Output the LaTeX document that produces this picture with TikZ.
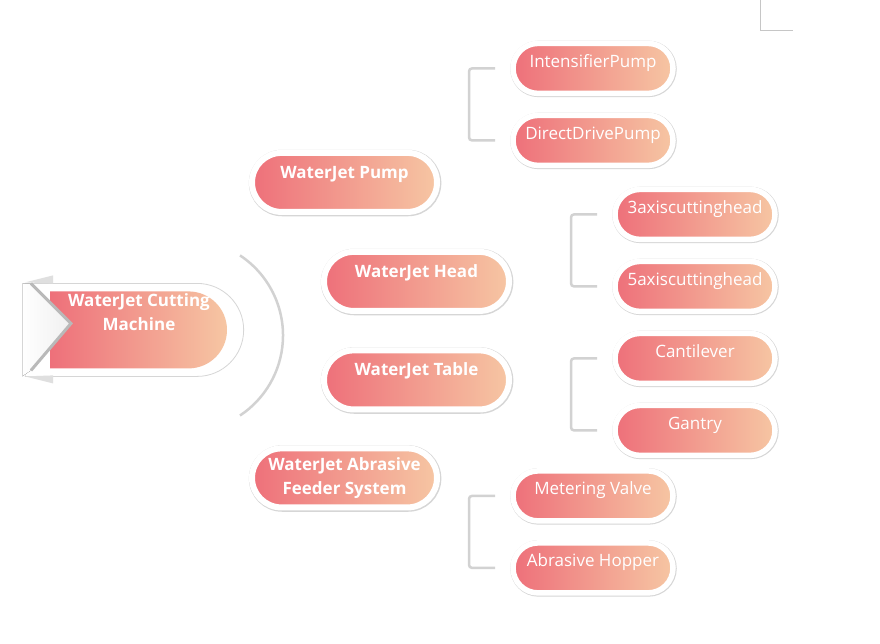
\documentclass[tikz,border=0pt]{standalone}
\usepackage{fontspec}
\setmainfont{Open Sans}
\usepackage{xcolor}
\usepackage{tikz}
\usetikzlibrary{shapes.misc, positioning}
\definecolor{gradL}{RGB}{238,112,122}
\definecolor{gradR}{RGB}{246,198,163}
\definecolor{ringgray}{RGB}{214,214,214}
\definecolor{linegray}{RGB}{210,210,210}

\begin{document}
\begin{tikzpicture}[
    x=1pt, y=-1pt,
    node distance=22pt,
    pill/.style={rounded rectangle, outer sep=0pt, inner sep=0pt, left color=gradL, right color=gradR, text=white},
    topic/.style={pill, minimum width=185pt, minimum height=59pt, preaction={draw=ringgray, line width=7.5pt, transform canvas={xshift=0.6pt, yshift=-0.6pt}}, draw=white, line width=6pt, font=\fontsize{17}{23.5}\selectfont\bfseries},
    lifted/.style={text height=11pt, text depth=19pt},
    subtopic/.style={pill, minimum width=160pt, minimum height=50pt, preaction={draw=ringgray, line width=6.5pt, transform canvas={xshift=0.5pt, yshift=-0.5pt}}, draw=white, line width=5.5pt, font=\fontsize{17}{20}\selectfont, text height=11pt, text depth=13pt},
    bracket/.style={draw=linegray, line width=2.5pt, rounded corners=3pt}
]
\fill[white] (0,0) rectangle (880,643);

% root
\node[rounded rectangle, rounded rectangle west arc=none, minimum width=225pt, minimum height=93pt, fill=white, draw=ringgray, line width=0.8pt, outer sep=0pt] (rootbg) at (134.5,329.5) {};
\node[pill, rounded rectangle west arc=none, minimum width=177pt, minimum height=77pt] (root) at (138.5,329.5) {};
\fill[left color=white, right color=gray!12] (22,283) -- (31,283) -- (71,323) -- (31,370) -- (22,376) -- cycle;
\fill[gray!25] (25,282) -- (53,275) -- (53,283) -- cycle;
\fill[gray!25] (25,376) -- (53,383) -- (53,375) -- cycle;
\draw[gray!55, line width=3pt] (31,283) -- (71,323) -- (31,370);
\draw[ringgray, line width=0.6pt] (22,283) -- (22,376);
\node[font=\fontsize{17}{23.5}\selectfont\bfseries, text=white, align=center] (roottext) at (139,311.5) {WaterJet Cutting\\Machine};

\draw[linegray, line width=2.5pt] (240,255) arc[start angle=56.5, end angle=-56.5, radius=96pt];

% topics
\node[topic, lifted] (pump) at (344.5,182) {WaterJet Pump};
\node[topic, lifted] (head) at (416.5,281) {WaterJet Head};
\node[topic, lifted] (table) at (416.5,379.5) {WaterJet Table};
\node[topic, align=center] (feeder) at (344.5,477.5) {WaterJet Abrasive\\Feeder System};

% subtopics
\node[subtopic] (intens) at (593,68) {IntensifierPump};
\node[subtopic, below=of intens] (direct) {DirectDrivePump};
\node[subtopic] (axthree) at (695,214) {3axiscuttinghead};
\node[subtopic, below=of axthree] (axfive) {5axiscuttinghead};
\node[subtopic] (canti) at (695,358) {Cantilever};
\node[subtopic, below=of canti] (gantry) {Gantry};
\node[subtopic] (meter) at (593,495.5) {Metering Valve};
\node[subtopic, below=of meter] (hopper) {Abrasive Hopper};

\draw[bracket] ([xshift=-18pt]intens.west) -- ([xshift=-44pt]intens.west) |- ([xshift=-18pt]direct.west);
\draw[bracket] ([xshift=-18pt]axthree.west) -- ([xshift=-44pt]axthree.west) |- ([xshift=-18pt]axfive.west);
\draw[bracket] ([xshift=-18pt]canti.west) -- ([xshift=-44pt]canti.west) |- ([xshift=-18pt]gantry.west);
\draw[bracket] ([xshift=-18pt]meter.west) -- ([xshift=-44pt]meter.west) |- ([xshift=-18pt]hopper.west);

\draw[gray!45, line width=0.8pt] (760,0) -- (760,30) -- (793,30);
\end{tikzpicture}
\end{document}
